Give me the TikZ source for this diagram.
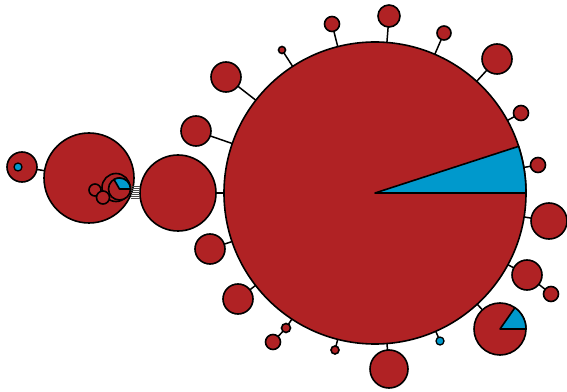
\documentclass[tikz,border=0pt]{standalone}
\usepackage{tikz}
\usetikzlibrary{calc}
\definecolor{cladeRed}{HTML}{B02224}
\definecolor{cladeBlue}{HTML}{0099CC}

\begin{document}
\begin{tikzpicture}[x=1pt,y=1pt,
  blob/.style={circle,draw=black,fill=cladeRed,line width=1.6pt,
               inner sep=0pt,outer sep=0pt,minimum size=#1},
  tip/.style={circle,draw=black,fill=cladeBlue,line width=1.3pt,
              inner sep=0pt,outer sep=0pt,minimum size=#1},
  link/.style={draw=black,line width=1.5pt},
  hatch/.style={draw=black!70,line width=0.8pt},
  wedge/.style={fill=cladeBlue,draw=black,line width=1.6pt,line join=round}]

\useasboundingbox (0,0) rectangle (567,391);

%% Hub and its ring
\node[blob=302pt] (hub) at (375,198) {};

\node[blob=22pt] (t1)  at (389,375) {};
\node[blob=15pt] (t2)  at (332,367) {};
\node[blob=7pt]  (t3)  at (282,341) {};
\node[blob=14pt] (t4)  at (444,358) {};
\node[blob=30pt] (t5)  at (497,332) {};
\node[blob=15pt] (t6)  at (521,278) {};
\node[blob=15pt] (t7)  at (538,226) {};
\node[blob=36pt] (t8)  at (549,170) {};
\node[blob=30pt] (t9)  at (527,116) {};
\node[blob=15pt] (t9b) at (551,97)  {};
\node[blob=52pt] (pie) at (500,62)  {};
\node[tip=8pt]   (t10) at (440,50)  {};
\node[blob=38pt] (t11) at (389,22)  {};
\node[blob=8pt]  (t12) at (335,41)  {};
\node[blob=9pt]  (t13) at (286,63)  {};
\node[blob=15pt] (t13b) at (273,49) {};
\node[blob=30pt] (t14) at (238,92)  {};
\node[blob=30pt] (t15) at (210,142) {};
\node[blob=76pt] (mid) at (178,198) {};
\node[blob=30pt] (t16) at (196,260) {};
\node[blob=30pt] (t17) at (226,314) {};

\foreach \s in {t1,t2,t3,t4,t5,t6,t7,t8,t9,pie,t10,t11,t12,t13,t14,t15,mid,t16,t17}
  \draw[link] (hub) -- (\s);
\draw[link] (t9) -- (t9b);
\draw[link] (t13) -- (t13b);

%% Left cluster
\node[blob=90pt] (lft) at (89,213) {};
\node[blob=30pt] (far) at (22,224) {};
\node[tip=8pt]   (dot) at (18,224) {};
\draw[link] (far) -- (lft);

\node[blob=28pt] (c) at (116,203.5) {};
\node[blob=12pt] (a) at (95,201)    {};
\node[blob=13pt] (b) at (103,193.5) {};
\node[blob=22pt] (d) at (119.5,202) {};

\foreach \k in {-9,-7,...,3}
  \draw[hatch] ([yshift=\k pt]d.east) -- ([yshift=\k pt]d.east -| mid.west);

%% Blue shares
\draw[wedge] (hub.center) -- (hub.east) arc[start angle=0,end angle=18,radius=151pt] -- cycle;
\draw[wedge] (pie.center) -- (pie.east) arc[start angle=0,end angle=55,radius=26pt] -- cycle;
\draw[wedge] (d.center) -- (d.east) arc[start angle=0,end angle=120,radius=11pt] -- cycle;
\end{tikzpicture}
\end{document}
